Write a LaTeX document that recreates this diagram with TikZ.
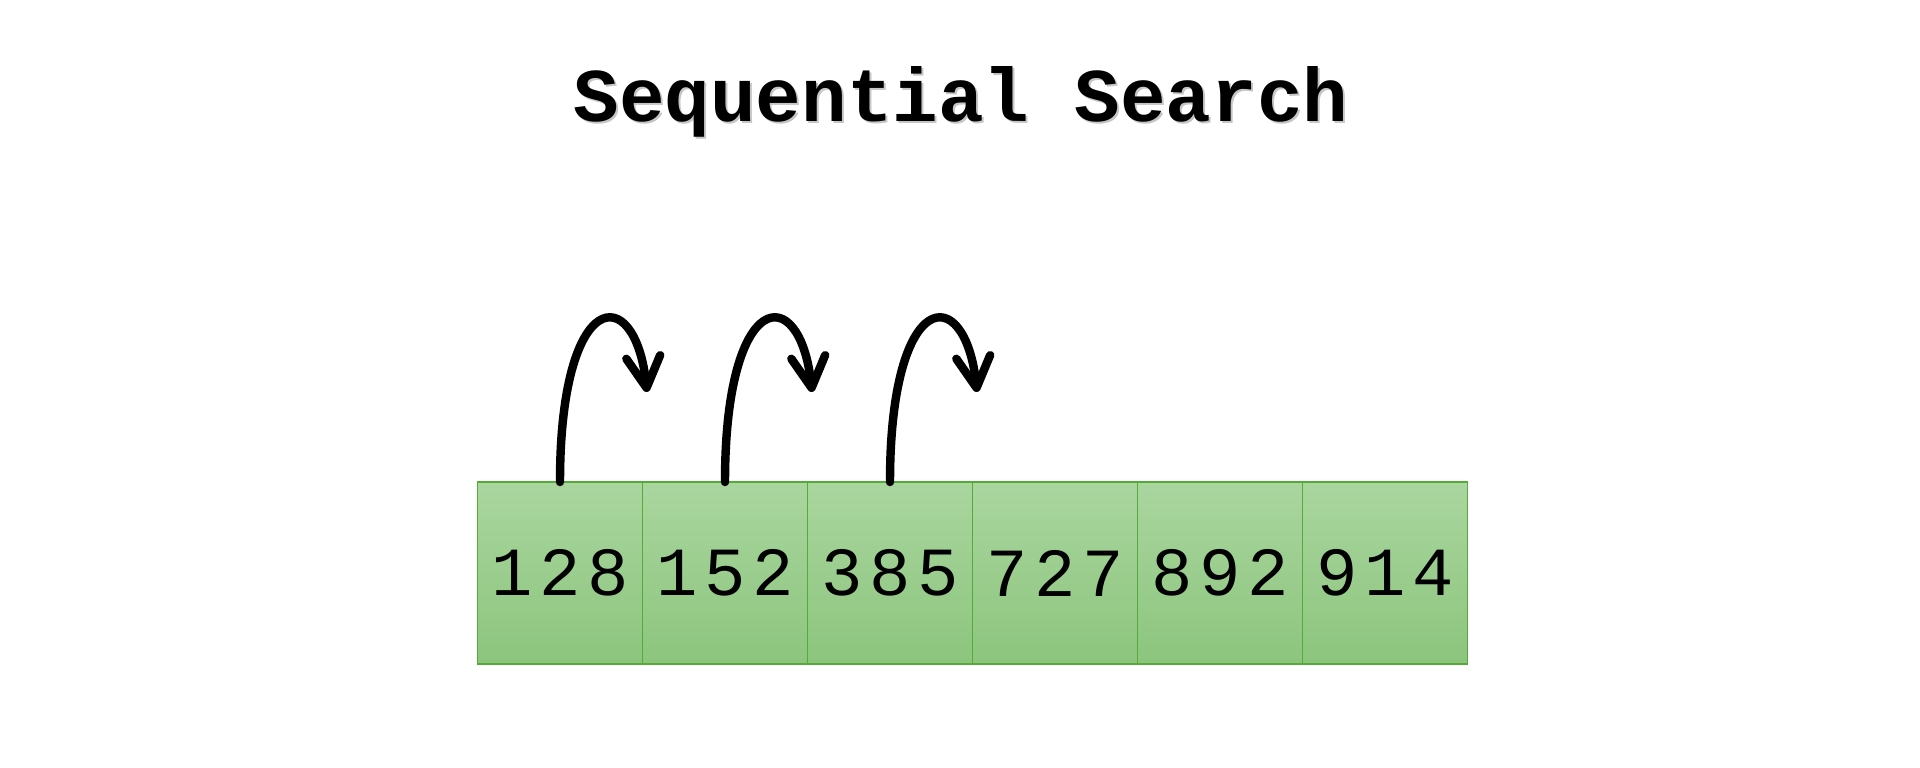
\documentclass[tikz,border=0pt]{standalone}
\usepackage{fontspec}
\setmonofont{Liberation Mono}
\newfontfamily\cellfont[LetterSpace=10]{Liberation Mono}
\usepackage{tikz}
\usetikzlibrary{arrows.meta, positioning}

\definecolor{cellTop}{RGB}{170,214,159}
\definecolor{cellBot}{RGB}{140,197,125}
\definecolor{cellLine}{RGB}{86,170,56}

\begin{document}
\begin{tikzpicture}[
  cell/.style={draw=cellLine, line width=0.5pt, top color=cellTop, bottom color=cellBot,
               minimum width=1.65cm, minimum height=1.82cm, inner sep=0pt, outer sep=0pt,
               font=\fontsize{19.6}{22}\selectfont\cellfont},
  hop/.style={line width=2.4pt, line cap=round,
              -{Straight Barb[length=3.1mm, width=3.4mm, round]}},
  title/.style={font=\fontsize{21.6}{24}\selectfont\ttfamily\bfseries, anchor=base, inner sep=0pt}
]
  \useasboundingbox (0,0) rectangle (19.2,7.68);

  % Title with its soft shadow
  \node[title, text=gray!45] (shadow) at (9.63,6.44) {Sequential Search};
  \node[title] (title) at (9.61,6.46) {Sequential Search};

  % Array cells
  \node[cell] (c1) at (5.60,1.95) {128};
  \node[cell, right=0cm of c1] (c2) {152};
  \node[cell, right=0cm of c2] (c3) {385};
  \node[cell, right=0cm of c3] (c4) {727};
  \node[cell, right=0cm of c4] (c5) {892};
  \node[cell, right=0cm of c5] (c6) {914};

  % Hops from cell to cell
  \foreach \i in {1,2,3} {
    \coordinate (t\i) at ([shift={(0.87,0.90)}]c\i.north);
    \draw[hop] (c\i.north) .. controls +(0,1.95) and +(-0.12,1.12) .. (t\i);
  }
\end{tikzpicture}
\end{document}
